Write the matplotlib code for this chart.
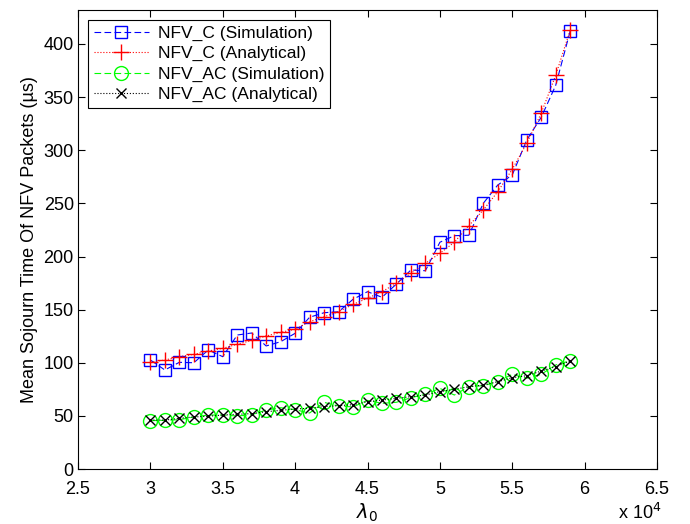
import matplotlib
matplotlib.use("Agg")
import matplotlib.pyplot as plt
from matplotlib.ticker import FuncFormatter

plt.rcParams['font.family'] = ['Liberation Sans', 'DejaVu Sans']

# data
# ---

lam = [30000, 31000, 32000, 33000, 34000, 35000, 36000, 37000, 38000, 39000,
       40000, 41000, 42000, 43000, 44000, 45000, 46000, 47000, 48000, 49000,
       50000, 51000, 52000, 53000, 54000, 55000, 56000, 57000, 58000, 59000]

nfv_c_sim = [102.6, 93.2, 100.4, 100.0, 112.0, 105.7, 126.1, 128.0, 115.8, 119.8,
             127.7, 142.8, 147.1, 148.0, 159.7, 166.9, 161.6, 174.1, 187.3, 186.6,
             213.4, 219.6, 220.0, 250.1, 267.3, 276.7, 309.6, 331.0, 361.0, 412.0]

nfv_c_ana = [100.4, 102.6, 105.7, 107.9, 111.0, 113.6, 117.4, 121.0, 125.2, 128.6,
             131.5, 138.6, 143.3, 148.0, 155.0, 160.7, 166.9, 174.8, 184.2, 193.6,
             203.0, 213.4, 229.0, 243.8, 261.0, 282.1, 306.5, 334.8, 370.5, 413.0]

nfv_ac_sim = [45.5, 45.8, 46.4, 49.0, 50.8, 50.8, 49.9, 51.1, 55.5, 57.7,
              55.8, 52.7, 62.7, 59.3, 58.4, 64.6, 61.8, 62.8, 67.1, 70.3,
              75.9, 69.6, 77.5, 78.4, 82.2, 89.1, 85.4, 89.1, 97.9, 101.9]

nfv_ac_ana = [46.1, 46.0, 47.7, 49.0, 49.6, 50.8, 51.5, 52.1, 53.9, 55.2,
              56.5, 57.1, 58.7, 59.6, 60.5, 63.3, 64.9, 66.5, 68.1, 69.6,
              72.8, 75.0, 77.5, 79.0, 82.2, 85.9, 87.8, 92.2, 96.3, 101.6]

labels = ["NFV_C (Simulation)", "NFV_C (Analytical)",
          "NFV_AC (Simulation)", "NFV_AC (Analytical)"]


# plot
# ---

fig = plt.figure(figsize=(6.9, 5.24), dpi=100)
ax = fig.add_axes([78/690, 55/524, (657-78)/690, (469-10)/524])

ax.plot(lam, nfv_c_sim, color="blue", linestyle=(0, (6, 3)), linewidth=0.8,
        marker="s", markersize=9, markerfacecolor="none", markeredgewidth=1,
        label=labels[0])
ax.plot(lam, nfv_c_ana, color="red", linestyle=":", linewidth=0.8,
        marker="+", markersize=11, markeredgewidth=1,
        label=labels[1])
ax.plot(lam, nfv_ac_sim, color="#00ff00", linestyle=(0, (6, 3)), linewidth=0.8,
        marker="o", markersize=10, markerfacecolor="none", markeredgewidth=1,
        label=labels[2])
ax.plot(lam, nfv_ac_ana, color="black", linestyle=":", linewidth=0.8,
        marker="x", markersize=7, markeredgewidth=1,
        label=labels[3])

ax.set_xlim(25000, 65000)
ax.set_ylim(0, 432)
ax.set_xticks(range(25000, 65001, 5000))
ax.set_yticks(range(0, 401, 50))
ax.xaxis.set_major_formatter(FuncFormatter(lambda v, p: "%g" % (v / 1e4)))
ax.tick_params(direction="in", top=True, right=True, labelsize=13, length=5)
ax.tick_params(axis="x", pad=9)
ax.tick_params(axis="y", pad=3)

ax.set_xlabel(r"$\lambda_0$", fontsize=14, labelpad=2)
ax.set_ylabel("Mean Sojourn Time Of NFV Packets (µs)", fontsize=13, labelpad=4)
fig.text(0.896, 0.01, r"x 10$^4$", fontsize=13)

leg = ax.legend(loc="upper left", fontsize=12.5, fancybox=False, framealpha=1,
                edgecolor="black", borderaxespad=0.6, handlelength=3.2,
                handletextpad=0.5, labelspacing=0.3, borderpad=0.3)
leg.get_frame().set_linewidth(0.8)

fig.savefig("out.png", dpi=100)
plt.close()
